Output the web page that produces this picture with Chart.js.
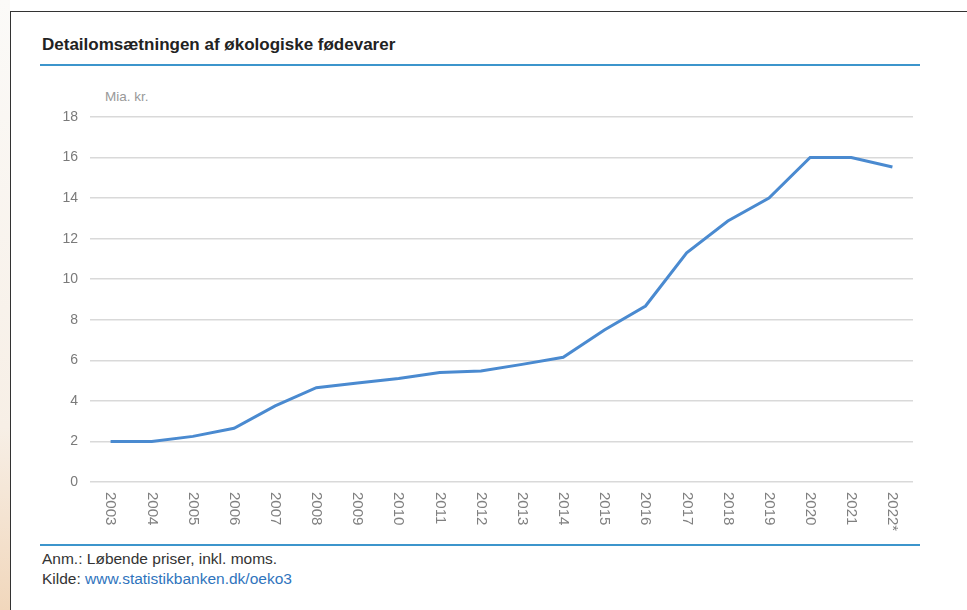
<!DOCTYPE html>
<html>
<head>
<meta charset="utf-8">
<script src="https://cdn.jsdelivr.net/npm/chart.js@4"></script>
<style>
  body { margin: 0; background: #fff; font-family: "Liberation Sans", Arial, sans-serif; }
  #page { position: relative; width: 967px; height: 610px; overflow: hidden; }
  #edge { position: absolute; left: 0; top: 0; width: 10px; height: 610px;
          background: linear-gradient(#fbfaf8 0%, #f7efe6 70%, #f1d7bc 100%); }
  #frame { position: absolute; left: 10px; top: 11px; width: 980px; height: 620px;
           border-left: 1.5px solid #333; border-top: 1.5px solid #333; }
  #title { position: absolute; left: 42px; top: 35px; font-size: 17px; font-weight: bold; color: #222; }
  .rule { position: absolute; left: 40px; width: 880px; height: 2px; background: #3c95cc; }
  #unit { position: absolute; left: 105px; top: 89px; font-size: 13.5px; color: #999; }
  #note { position: absolute; left: 42px; top: 549px; font-size: 15.5px; color: #333; line-height: 20px; }
  #note a { color: #2f74bd; text-decoration: none; }
  #wrap { position: absolute; left: 0; top: 80px; width: 967px; height: 460px; }
</style>
</head>
<body>
<div id="page">
  <div id="edge"></div>
  <div id="frame"></div>
  <div id="title">Detailomsætningen af økologiske fødevarer</div>
  <div class="rule" style="top:64px"></div>
  <div id="unit">Mia. kr.</div>
  <div id="wrap"><canvas id="lineChart" width="967" height="460"></canvas></div>
  <div class="rule" style="top:544px"></div>
  <div id="note">Anm.: Løbende priser, inkl. moms.<br>Kilde: <a>www.statistikbanken.dk/oeko3</a></div>
</div>
<script>
const years = ['2003', '2004', '2005', '2006', '2007', '2008', '2009', '2010', '2011', '2012',
  '2013', '2014', '2015', '2016', '2017', '2018', '2019', '2020', '2021', '2022*'];
const sales = [2.0, 2.0, 2.25, 2.65, 3.75, 4.65, 4.88, 5.1, 5.4, 5.47,
  5.8, 6.15, 7.5, 8.68, 11.3, 12.87, 14.0, 16.0, 16.0, 15.53];
const yTicks = [0, 2, 4, 6, 8, 10, 12, 14, 16, 18];

// x labels read top-to-bottom, so draw them rotated clockwise ourselves
const downLabels = {
  id: 'downLabels',
  afterDraw(chart) {
    const c = chart.ctx, xs = chart.scales.x, top = chart.chartArea.bottom + 10;
    c.save();
    c.font = '15px "Liberation Sans", Arial, sans-serif';
    c.fillStyle = '#808080';
    c.textAlign = 'left';
    c.textBaseline = 'middle';
    years.forEach(function(y, i) {
      c.save();
      c.translate(xs.getPixelForValue(i), top);
      c.rotate(Math.PI / 2);
      c.fillText(y, 0, 0);
      c.restore();
    });
    c.restore();
  }
};

const ctx = document.getElementById('lineChart').getContext('2d');
new Chart(ctx, {
  type: 'line',
  data: {
    labels: years,
    datasets: [{
      data: sales,
      borderColor: '#4a8ad0',
      borderWidth: 3,
      pointRadius: 0,
      tension: 0,
      fill: false
    }]
  },
  options: {
    responsive: false,
    animation: false,
    layout: { padding: { top: 37, right: 54, bottom: 50, left: 0 } },
    plugins: { legend: { display: false }, tooltip: { enabled: false } },
    scales: {
      x: {
        offset: true,
        grid: { display: false },
        border: { display: false },
        ticks: { display: false }
      },
      y: {
        min: 0,
        max: 18,
        afterFit: function(s) { s.width = 90; },
        afterBuildTicks: function(s) { s.ticks = yTicks.map(function(v) { return { value: v }; }); },
        grid: { color: '#d9d9d9', lineWidth: 1.5, drawTicks: false },
        border: { display: false },
        ticks: {
          padding: 12,
          color: '#7a7a7a',
          font: { family: '"Liberation Sans", Arial, sans-serif', size: 14 }
        }
      }
    }
  },
  plugins: [downLabels]
});
</script>
</body>
</html>
